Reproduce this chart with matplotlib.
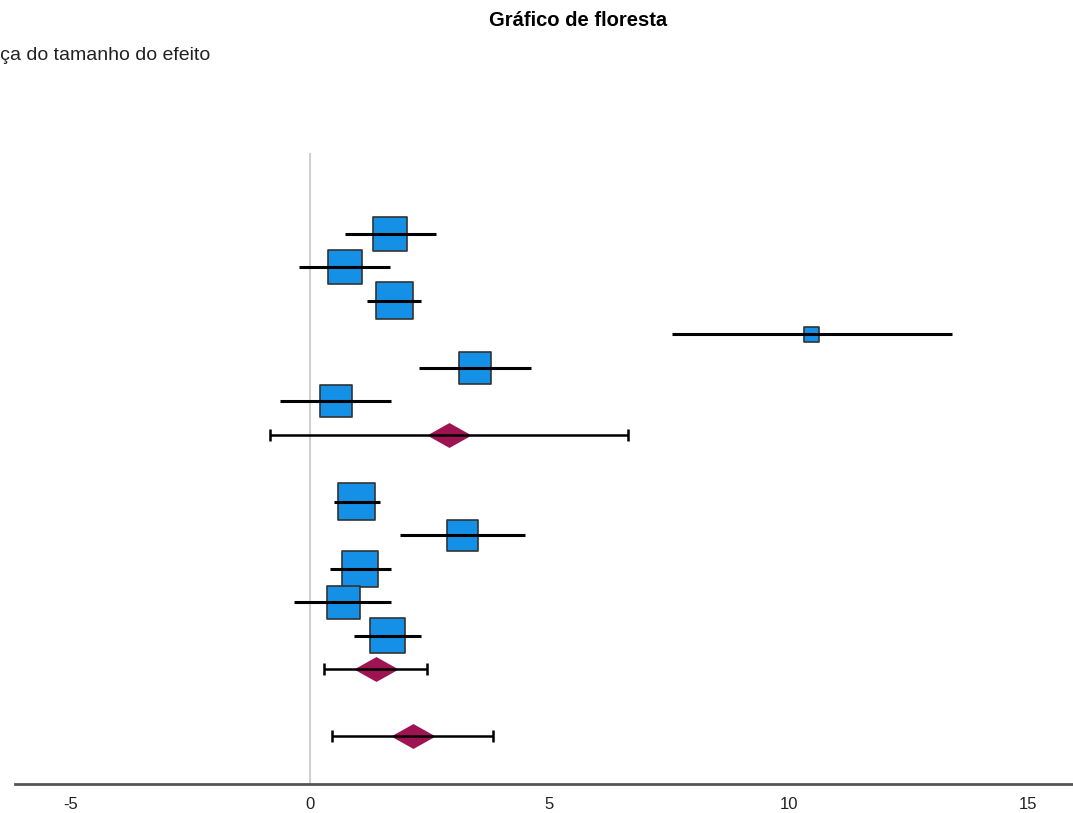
import matplotlib.pyplot as plt

# Dados do gráfico de floresta (linhas de cima para baixo)
rows = [1, 2, 3, 4, 5, 6, 9, 10, 11, 12, 13]
effects = [1.67, 0.72, 1.76, 10.47, 3.45, 0.54, 0.98, 3.18, 1.05, 0.69, 1.61]
ci_low = [0.73, -0.23, 1.18, 7.55, 2.28, -0.62, 0.49, 1.87, 0.42, -0.33, 0.92]
ci_high = [2.63, 1.66, 2.32, 13.40, 4.62, 1.69, 1.46, 4.48, 1.70, 1.70, 2.32]
weights = [34, 34, 37, 15, 32, 32, 37, 31, 36, 33, 35]

# Resumos (diamantes)
sum_rows = [7, 14, 16]
sum_effects = [2.90, 1.38, 2.14]
sum_low = [-0.84, 0.30, 0.45]
sum_high = [6.64, 2.44, 3.82]

xticks = [-5, 0, 5, 10, 15]

W, H = 1073, 813
fig = plt.figure(figsize=(W / 100, H / 100), dpi=100)
ax = fig.add_axes([15 / W, 1 - 784 / H, (W - 15) / W, (784 - 153) / H])

ax.axvline(0, color='#d0d0d0', linewidth=1.5, zorder=0)

# estudos: quadrados com linha do IC por cima
sizes = [(w * 0.72) ** 2 for w in weights]
ax.scatter(effects, rows, s=sizes, marker='s', color='#1490e6',
           edgecolor='#333333', linewidth=1.2, zorder=2)
ax.hlines(rows, ci_low, ci_high, color='black', linewidth=2.2, zorder=3)

# resumos: diamantes achatados com barras de erro
diamond = [(-1, 0), (0, 0.56), (1, 0), (0, -0.56), (-1, 0)]
ax.scatter(sum_effects, sum_rows, s=32 ** 2, marker=diamond, color='#9e1352',
           linewidth=0, zorder=2)
for y, lo, hi in zip(sum_rows, sum_low, sum_high):
    ax.hlines(y, lo, hi, color='black', linewidth=1.8, zorder=3)
    ax.vlines([lo, hi], y - 0.17, y + 0.17, color='black', linewidth=1.8, zorder=3)

ax.set_xlim(-6.16, 15.93)
ax.set_ylim(17.43, -1.42)
ax.set_xticks(xticks)
ax.set_xticklabels([str(t) for t in xticks], fontsize=12, color='#222222',
                   family=['Liberation Sans', 'DejaVu Sans'])
ax.tick_params(axis='x', length=0, pad=9)
ax.set_yticks([])
for s in ['top', 'right', 'left']:
    ax.spines[s].set_visible(False)
ax.spines['bottom'].set_color('#555555')
ax.spines['bottom'].set_linewidth(2)

fig.text(578 / W, 1 - 20 / H, 'Gráfico de floresta', ha='center', va='center',
         fontsize=14.5, fontweight='bold', family=['Liberation Sans', 'DejaVu Sans'])
fig.text(210 / W, 1 - 56 / H, 'Diferença do tamanho do efeito', ha='right',
         va='center', fontsize=14, color='#222222',
         family=['Liberation Sans', 'DejaVu Sans'])

fig.savefig('out.png', dpi=100)
